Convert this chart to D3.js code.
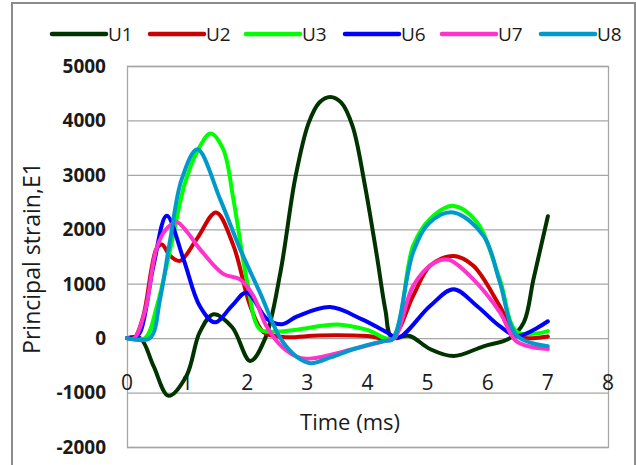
<!DOCTYPE html>
<html>
<head>
    <meta charset="utf-8">
    <script src="https://d3js.org/d3.v7.min.js"></script>
    <style>
        body { margin: 0; padding: 0; background-color: #ffffff; }
        text { font-family: "Open Sans", sans-serif; fill: #1a1a1a; }
    </style>
</head>
<body>
<div id="chart"></div>
<script>
    // values: [time (ms), principal strain]
    var U1 = [[0,0],[0.22,0],[0.44,-510],[0.69,-1060],[0.99,-690],[1.21,110],[1.44,440],[1.75,200],[2.05,-420],[2.3,0],[2.55,1200],[2.8,2950],[3.02,3950],[3.2,4330],[3.38,4430],[3.56,4330],[3.75,3900],[3.95,2850],[4.15,1550],[4.3,500],[4.4,20],[4.7,40],[5.04,-200],[5.43,-330],[5.93,-150],[6.37,0],[6.6,290],[6.76,1080],[7.0,2240]];
    var U2 = [[0,0],[0.12,0],[0.27,400],[0.49,1640],[0.58,1720],[0.72,1510],[0.88,1420],[1.16,1820],[1.48,2310],[1.77,1700],[2.05,590],[2.27,110],[2.6,20],[3.2,50],[4.0,40],[4.4,0],[4.76,780],[5.04,1330],[5.43,1510],[5.76,1330],[6.2,590],[6.49,40],[7.0,30]];
    var U3 = [[0,0],[0.3,0],[0.5,600],[0.72,1640],[0.97,2870],[1.2,3500],[1.39,3760],[1.6,3470],[1.77,2550],[2.0,1030],[2.21,165],[2.5,120],[2.88,165],[3.5,250],[4.0,150],[4.4,0],[4.76,1700],[5.04,2190],[5.43,2430],[5.82,2130],[6.2,1080],[6.49,110],[7.0,130]];
    var U6 = [[0,0],[0.12,0],[0.22,110],[0.44,1330],[0.66,2250],[0.94,1450],[1.21,590],[1.46,290],[1.75,600],[1.99,840],[2.33,350],[2.58,257],[2.83,400],[3.38,570],[3.9,350],[4.32,110],[4.5,0],[5.04,590],[5.43,900],[5.82,590],[6.2,220],[6.49,40],[7.0,310]];
    var U7 = [[0,0],[0.12,0],[0.3,500],[0.49,1640],[0.65,2000],[0.83,2130],[1.0,1950],[1.21,1640],[1.6,1180],[1.88,1080],[2.1,780],[2.32,220],[2.6,-180],[2.9,-370],[3.16,-360],[3.77,-200],[4.3,-50],[4.45,0],[4.76,960],[5.1,1380],[5.35,1440],[5.76,1080],[6.2,480],[6.49,-70],[7.0,-200]];
    var U8 = [[0,0],[0.38,0],[0.55,720],[0.72,1820],[0.91,2920],[1.17,3470],[1.55,2550],[1.88,1640],[2.21,840],[2.55,0],[2.83,-350],[3.05,-460],[3.4,-350],[3.77,-200],[4.27,-50],[4.42,-20],[4.76,1580],[5.04,2130],[5.43,2310],[5.93,1880],[6.2,1030],[6.49,40],[7.0,-150]];

    var seriesNames = ["U1", "U2", "U3", "U6", "U7", "U8"];
    var seriesData = [U1, U2, U3, U6, U7, U8];
    var seriesColors = ["#003300", "#cc0000", "#00ff00", "#0000ff", "#ff33cc", "#0099cc"];
    var xTicks = [0, 1, 2, 3, 4, 5, 6, 7, 8];
    var yTicks = [-2000, -1000, 0, 1000, 2000, 3000, 4000, 5000];

    var width = 636, height = 465;
    var plotLeft = 127, plotRight = 608, plotTop = 66, plotBottom = 447;

    var svg = d3.select("#chart").append("svg")
        .attr("width", width)
        .attr("height", height);

    // outer chart frame
    svg.append("rect")
        .attr("x", 12).attr("y", 3)
        .attr("width", 623).attr("height", 480)
        .attr("fill", "none")
        .attr("stroke", "#8c8c8c")
        .attr("stroke-width", 2);

    var x = d3.scaleLinear().domain([0, 8]).range([plotLeft, plotRight]);
    var y = d3.scaleLinear().domain([-2000, 5000]).range([plotBottom, plotTop]);

    // gridlines
    svg.append("g")
        .selectAll("line")
        .data(yTicks)
        .enter().append("line")
        .attr("x1", plotLeft).attr("x2", plotRight)
        .attr("y1", function(d){ return y(d) + 0.5; })
        .attr("y2", function(d){ return y(d) + 0.5; })
        .attr("stroke", "#a6a6a6")
        .attr("stroke-width", 1.3);

    // plot frame
    svg.append("rect")
        .attr("x", plotLeft + 0.5).attr("y", plotTop + 0.5)
        .attr("width", plotRight - plotLeft).attr("height", plotBottom - plotTop)
        .attr("fill", "none")
        .attr("stroke", "#a6a6a6")
        .attr("stroke-width", 1.3);

    // y tick labels
    svg.append("g")
        .selectAll("text")
        .data(yTicks)
        .enter().append("text")
        .attr("x", 106)
        .attr("y", function(d){ return y(d); })
        .attr("dy", "0.36em")
        .attr("text-anchor", "end")
        .style("font-size", "19px")
        .style("font-weight", "bold")
        .text(function(d){ return d; });

    // x tick labels (sit just above the -1000 line)
    svg.append("g")
        .selectAll("text")
        .data(xTicks)
        .enter().append("text")
        .attr("x", function(d){ return x(d); })
        .attr("y", 390)
        .attr("text-anchor", "middle")
        .style("font-size", "21px")
        .text(function(d){ return d; });

    svg.append("text")
        .attr("x", 350)
        .attr("y", 430)
        .attr("text-anchor", "middle")
        .style("font-size", "22px")
        .text("Time (ms)");

    svg.append("text")
        .attr("transform", "translate(40,258) rotate(-90)")
        .attr("text-anchor", "middle")
        .style("font-size", "23px")
        .text("Principal strain,E1");

    // series
    var line = d3.line()
        .x(function(d){ return x(d[0]); })
        .y(function(d){ return y(d[1]); })
        .curve(d3.curveCatmullRom.alpha(0.5));

    svg.append("g")
        .selectAll("path")
        .data(seriesData)
        .enter().append("path")
        .attr("d", line)
        .attr("fill", "none")
        .attr("stroke", function(d, i){ return seriesColors[i]; })
        .attr("stroke-width", 4)
        .attr("stroke-linejoin", "round")
        .attr("stroke-linecap", "round");

    // legend
    var legendX = [52, 150, 246, 345, 442, 541];
    var legend = svg.append("g")
        .selectAll("g")
        .data(seriesNames)
        .enter().append("g")
        .attr("transform", function(d, i){ return "translate(" + legendX[i] + ",34)"; });

    legend.append("line")
        .attr("x1", 0).attr("x2", 54)
        .attr("y1", 0).attr("y2", 0)
        .attr("stroke", function(d, i){ return seriesColors[i]; })
        .attr("stroke-width", 4.5)
        .attr("stroke-linecap", "round");

    legend.append("text")
        .attr("x", 56)
        .attr("y", 0)
        .attr("dy", "0.36em")
        .style("font-size", "19px")
        .text(function(d){ return d; });
</script>
</body>
</html>
